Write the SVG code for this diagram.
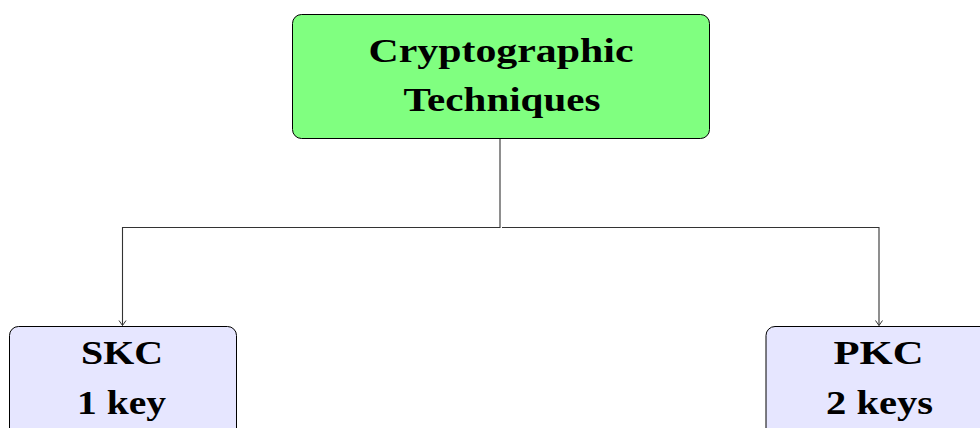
<svg xmlns="http://www.w3.org/2000/svg" width="980" height="428" viewBox="0 0 980 428">
<defs>
<style>
.box{stroke:#000;stroke-width:1}
.green{fill:#80ff80}
.blue{fill:#e6e6ff}
.t{font-family:"Liberation Serif","DejaVu Serif",serif;font-weight:bold;font-size:34px;fill:#000;text-anchor:middle}
.c{fill:none;stroke:#333;stroke-width:1.1}
</style>
<marker id="arr" markerWidth="10" markerHeight="10" refX="8" refY="5" orient="auto" markerUnits="userSpaceOnUse">
<path d="M3,1.5 L8,5 L3,8.5" fill="none" stroke="#333" stroke-width="1"/>
</marker>
</defs>
<g id="connectors">
<path class="c" d="M500,139 V227.5 H122.5 V325.5" marker-end="url(#arr)"/>
<path class="c" d="M502,227.5 H879 V325.5" marker-end="url(#arr)"/>
</g>
<g id="root">
<rect class="box green" x="292.5" y="14.5" width="417" height="124" rx="9"/>
<text class="t" x="501" y="62" textLength="265" lengthAdjust="spacingAndGlyphs">Cryptographic</text>
<text class="t" x="502" y="111" textLength="197" lengthAdjust="spacingAndGlyphs">Techniques</text>
</g>
<g id="skc">
<rect class="box blue" x="9.5" y="326.5" width="227" height="120" rx="9"/>
<text class="t" x="122" y="364" textLength="82" lengthAdjust="spacingAndGlyphs">SKC</text>
<text class="t" x="121.5" y="414" textLength="89" lengthAdjust="spacingAndGlyphs">1 key</text>
</g>
<g id="pkc">
<rect class="box blue" x="766" y="326.5" width="227" height="120" rx="9"/>
<text class="t" x="878.5" y="364" textLength="90" lengthAdjust="spacingAndGlyphs">PKC</text>
<text class="t" x="879.5" y="414" textLength="107" lengthAdjust="spacingAndGlyphs">2 keys</text>
</g>
</svg>
